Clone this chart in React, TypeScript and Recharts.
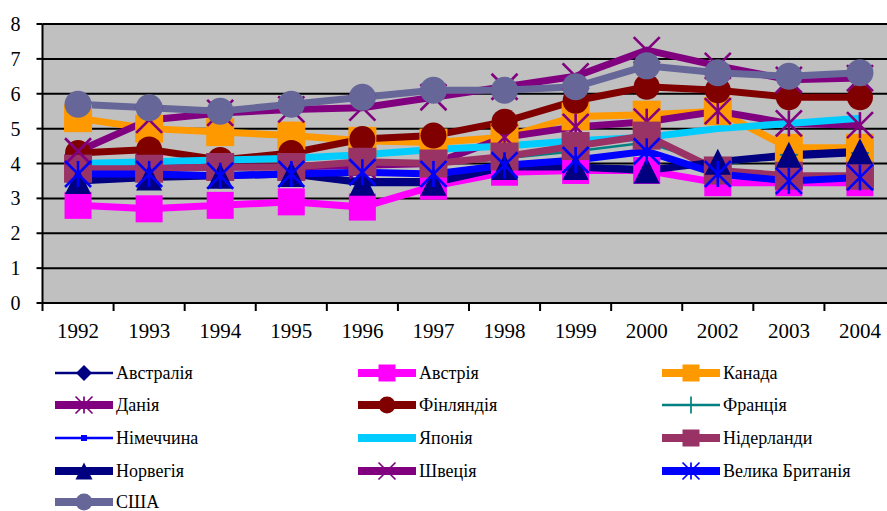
import React from "react";
import { LineChart, Line, XAxis, YAxis, CartesianGrid } from "recharts";

// Years on the category axis (2001 is missing in the source series)
const years = ["1992", "1993", "1994", "1995", "1996", "1997", "1998", "1999", "2000", "2002", "2003", "2004"];
const yTicks = [0, 1, 2, 3, 4, 5, 6, 7, 8];

const australia = [3.55, 3.6, 3.65, 3.7, 3.55, 3.55, 3.9, 3.95, 3.9, 4.0, 4.15, 4.25];
const austria = [2.8, 2.7, 2.8, 2.9, 2.75, 3.35, 3.75, 3.8, 3.8, 3.45, 3.45, 3.45];
const canada = [5.3, 5.0, 4.9, 4.8, 4.65, 4.6, 4.75, 5.35, 5.4, 5.5, 4.45, 4.45];
const denmark = [3.9, 3.9, 3.9, 3.9, 3.95, 4.0, 4.75, 5.05, 5.2, 5.5, 5.15, 5.1];
const finland = [4.3, 4.4, 4.1, 4.3, 4.7, 4.8, 5.2, 5.8, 6.2, 6.1, 5.9, 5.9];
const france = [3.9, 3.9, 3.9, 3.95, 4.0, 3.95, 4.15, 4.35, 4.6, 3.95, 4.25, 4.3];
const germany = [3.7, 3.7, 3.7, 3.75, 3.75, 3.75, 3.95, 4.1, 4.3, 3.75, 3.55, 3.6];
const japan = [4.0, 4.05, 4.1, 4.15, 4.25, 4.4, 4.5, 4.65, 4.75, 5.0, 5.15, 5.3];
const netherlands = [3.85, 3.85, 3.9, 3.9, 4.05, 4.0, 4.2, 4.5, 4.8, 3.8, 3.65, 3.65];
const norway = [3.5, 3.6, 3.65, 3.7, 3.45, 3.45, 3.9, 3.9, 3.8, 4.05, 4.25, 4.35];
const sweden = [4.35, 5.25, 5.45, 5.55, 5.6, 5.9, 6.2, 6.5, 7.25, 6.8, 6.4, 6.45];
const uk = [3.7, 3.7, 3.65, 3.7, 3.75, 3.7, 3.95, 4.1, 4.35, 3.7, 3.5, 3.6];
const usa = [5.7, 5.6, 5.5, 5.7, 5.9, 6.1, 6.1, 6.2, 6.8, 6.6, 6.5, 6.6];

type MarkerKind = "diamond" | "square" | "circle" | "triangle" | "asterisk" | "x" | "plus" | "none";

const series: { name: string; values: number[]; color: string; width: number; marker: MarkerKind; size: number }[] = [
  { name: "Австралія", values: australia, color: "#000080", width: 2.5, marker: "diamond", size: 16 },
  { name: "Австрія", values: austria, color: "#FF00FF", width: 7, marker: "square", size: 27 },
  { name: "Канада", values: canada, color: "#FF9900", width: 7, marker: "square", size: 28 },
  { name: "Данія", values: denmark, color: "#800080", width: 7, marker: "asterisk", size: 26 },
  { name: "Фінляндія", values: finland, color: "#800000", width: 7, marker: "circle", size: 26 },
  { name: "Франція", values: france, color: "#008080", width: 2.5, marker: "plus", size: 18 },
  { name: "Німеччина", values: germany, color: "#0000FF", width: 2.5, marker: "square", size: 7 },
  { name: "Японія", values: japan, color: "#00CCFF", width: 7, marker: "none", size: 0 },
  { name: "Нідерланди", values: netherlands, color: "#993366", width: 7, marker: "square", size: 28 },
  { name: "Норвегія", values: norway, color: "#000080", width: 7, marker: "triangle", size: 26 },
  { name: "Швеція", values: sweden, color: "#800080", width: 7, marker: "x", size: 26 },
  { name: "Велика Британія", values: uk, color: "#0000FF", width: 7, marker: "asterisk", size: 26 },
  { name: "США", values: usa, color: "#666699", width: 7, marker: "circle", size: 27 },
];

const data = years.map((year, i) => {
  const row: Record<string, number | string> = { pos: i, year };
  series.forEach((s) => {
    row[s.name] = s.values[i];
  });
  return row;
});

// label ticks at integer positions, boundary tick marks at half steps
const xTicks: number[] = [];
for (let i = 0; i <= years.length; i++) {
  xTicks.push(i - 0.5);
  if (i < years.length) xTicks.push(i);
}

const FONT = "'Liberation Serif', 'Times New Roman', serif";

const Marker = ({ kind, cx, cy, size, color }: { kind: MarkerKind; cx: number; cy: number; size: number; color: string }) => {
  const h = size / 2;
  const sw = Math.max(1.5, size / 10);
  switch (kind) {
    case "square":
      return <rect x={cx - h} y={cy - h} width={size} height={size} fill={color} />;
    case "circle":
      return <circle cx={cx} cy={cy} r={h} fill={color} />;
    case "diamond":
      return <polygon points={`${cx},${cy - h} ${cx + h},${cy} ${cx},${cy + h} ${cx - h},${cy}`} fill={color} />;
    case "triangle":
      return <polygon points={`${cx},${cy - h} ${cx + h},${cy + h} ${cx - h},${cy + h}`} fill={color} />;
    case "x":
      return (
        <g stroke={color} strokeWidth={sw}>
          <line x1={cx - h} y1={cy - h} x2={cx + h} y2={cy + h} />
          <line x1={cx - h} y1={cy + h} x2={cx + h} y2={cy - h} />
        </g>
      );
    case "asterisk":
      return (
        <g stroke={color} strokeWidth={sw}>
          <line x1={cx - h} y1={cy - h} x2={cx + h} y2={cy + h} />
          <line x1={cx - h} y1={cy + h} x2={cx + h} y2={cy - h} />
          <line x1={cx} y1={cy - h} x2={cx} y2={cy + h} />
        </g>
      );
    case "plus":
      return (
        <g stroke={color} strokeWidth={sw}>
          <line x1={cx - h} y1={cy} x2={cx + h} y2={cy} />
          <line x1={cx} y1={cy - h} x2={cx} y2={cy + h} />
        </g>
      );
    default:
      return null;
  }
};

const XTick = (props: any) => {
  const { x, y, payload } = props;
  const v = payload.value as number;
  if (Number.isInteger(v)) {
    return (
      <text x={x} y={y + 35} textAnchor="middle" fontSize={21} fill="#000" fontFamily={FONT}>
        {years[v]}
      </text>
    );
  }
  return <line x1={x} x2={x} y1={y} y2={y + 8} stroke="#000" strokeWidth={2} />;
};

const legendCols = [55, 358, 662];
const legendRows = [373, 405, 438, 471, 502];

const ChartLegend = () => (
  <svg width={887} height={511} style={{ position: "absolute", left: 0, top: 0, pointerEvents: "none" }}>
    {series.map((s, i) => {
      const x = legendCols[i % 3];
      const y = legendRows[Math.floor(i / 3)];
      const legendSize = s.marker === "square" && s.size < 10 ? 6 : Math.min(s.size, 17);
      return (
        <g key={s.name}>
          <line x1={x} x2={x + 58} y1={y} y2={y} stroke={s.color} strokeWidth={s.width >= 5 ? 8 : 2.5} />
          <Marker kind={s.marker} cx={x + 29} cy={y} size={legendSize} color={s.color} />
          <text x={x + 61} y={y + 6} fontSize={18} fill="#000" fontFamily={FONT}>
            {s.name}
          </text>
        </g>
      );
    })}
  </svg>
);

export default function App() {
  return (
    <div style={{ position: "absolute", left: 0, top: 0, width: 887, height: 511, overflow: "hidden", background: "#fff", fontFamily: FONT }}>
      <LineChart width={900} height={350} data={data} margin={{ top: 24, right: 4.5, bottom: 7, left: 0 }}>
        <CartesianGrid vertical={false} stroke="#000" strokeWidth={2} fill="#C0C0C0" fillOpacity={1} />
        <XAxis
          dataKey="pos"
          type="number"
          domain={[-0.5, years.length - 0.5]}
          ticks={xTicks}
          interval={0}
          tickSize={0}
          tickMargin={0}
          tick={<XTick />}
          height={40}
          axisLine={{ stroke: "#000", strokeWidth: 2 }}
          tickLine={false}
        />
        <YAxis
          domain={[0, 8]}
          ticks={yTicks}
          interval={0}
          width={42.5}
          tickSize={6}
          tickMargin={16}
          tick={{ fontSize: 20, fill: "#000" }}
          axisLine={{ stroke: "#000", strokeWidth: 2 }}
          tickLine={{ stroke: "#000", strokeWidth: 2 }}
        />
        {series.map((s) => (
          <Line
            key={s.name}
            dataKey={s.name}
            stroke={s.color}
            strokeWidth={s.width}
            isAnimationActive={false}
            activeDot={false}
            dot={(p: any) => (
              <Marker key={`${s.name}-${p.index}`} kind={s.marker} cx={p.cx} cy={p.cy} size={s.size} color={s.color} />
            )}
          />
        ))}
      </LineChart>
      <ChartLegend />
    </div>
  );
}
